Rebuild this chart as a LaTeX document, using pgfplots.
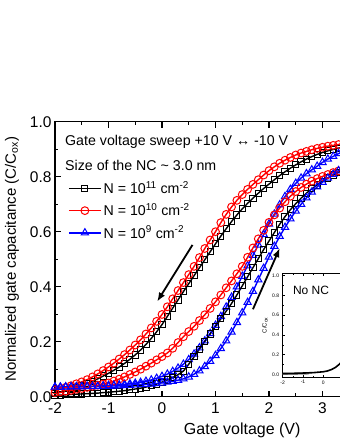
\documentclass[border=0pt]{standalone}
\usepackage{fontspec}
\setmainfont{Liberation Sans}
\usepackage{pgfplots}
\pgfplotsset{compat=1.18}
\usetikzlibrary{arrows.meta}

\pgfplotstableread[row sep=\\]{
x y\\ -2.0 0.012\\ -1.9 0.016\\ -1.8 0.021\\ -1.7 0.027\\ -1.6 0.034\\ -1.5 0.041\\ -1.4 0.048\\ -1.3 0.056\\ -1.2 0.065\\ -1.1 0.075\\ -1.0 0.085\\ -0.9 0.096\\ -0.8 0.108\\ -0.7 0.121\\ -0.6 0.136\\ -0.5 0.152\\ -0.4 0.170\\ -0.3 0.190\\ -0.2 0.212\\ -0.1 0.236\\ 0.0 0.262\\ 0.1 0.292\\ 0.2 0.322\\ 0.3 0.352\\ 0.4 0.382\\ 0.5 0.411\\ 0.6 0.440\\ 0.7 0.469\\ 0.8 0.498\\ 0.9 0.527\\ 1.0 0.556\\ 1.1 0.584\\ 1.2 0.611\\ 1.3 0.637\\ 1.4 0.661\\ 1.5 0.683\\ 1.6 0.703\\ 1.7 0.722\\ 1.8 0.740\\ 1.9 0.757\\ 2.0 0.773\\ 2.1 0.789\\ 2.2 0.804\\ 2.3 0.818\\ 2.4 0.831\\ 2.5 0.843\\ 2.6 0.854\\ 2.7 0.864\\ 2.8 0.873\\ 2.9 0.881\\ 3.0 0.888\\ 3.1 0.894\\ 3.2 0.899\\ 3.3 0.904\\ 3.4 0.908\\
}\BL
\pgfplotstableread[row sep=\\]{
x y\\ -2.0 0.005\\ -1.9 0.006\\ -1.8 0.007\\ -1.7 0.008\\ -1.6 0.009\\ -1.5 0.010\\ -1.4 0.011\\ -1.3 0.012\\ -1.2 0.013\\ -1.1 0.015\\ -1.0 0.016\\ -0.9 0.018\\ -0.8 0.020\\ -0.7 0.022\\ -0.6 0.025\\ -0.5 0.028\\ -0.4 0.031\\ -0.3 0.035\\ -0.2 0.040\\ -0.1 0.046\\ 0.0 0.053\\ 0.1 0.061\\ 0.2 0.070\\ 0.3 0.080\\ 0.4 0.093\\ 0.5 0.118\\ 0.6 0.145\\ 0.7 0.173\\ 0.8 0.201\\ 0.9 0.228\\ 1.0 0.255\\ 1.1 0.283\\ 1.2 0.311\\ 1.3 0.339\\ 1.4 0.370\\ 1.5 0.403\\ 1.6 0.436\\ 1.7 0.469\\ 1.8 0.502\\ 1.9 0.535\\ 2.0 0.566\\ 2.1 0.597\\ 2.2 0.627\\ 2.3 0.655\\ 2.4 0.680\\ 2.5 0.702\\ 2.6 0.722\\ 2.7 0.740\\ 2.8 0.756\\ 2.9 0.770\\ 3.0 0.783\\ 3.1 0.795\\ 3.2 0.806\\ 3.3 0.816\\ 3.4 0.825\\
}\BR
\pgfplotstableread[row sep=\\]{
x y\\ -2.0 0.025\\ -1.9 0.029\\ -1.8 0.034\\ -1.7 0.040\\ -1.6 0.047\\ -1.5 0.054\\ -1.4 0.062\\ -1.3 0.072\\ -1.2 0.083\\ -1.1 0.095\\ -1.0 0.108\\ -0.9 0.122\\ -0.8 0.137\\ -0.7 0.153\\ -0.6 0.170\\ -0.5 0.188\\ -0.4 0.207\\ -0.3 0.228\\ -0.2 0.250\\ -0.1 0.274\\ 0.0 0.299\\ 0.1 0.327\\ 0.2 0.356\\ 0.3 0.386\\ 0.4 0.415\\ 0.5 0.444\\ 0.6 0.474\\ 0.7 0.506\\ 0.8 0.539\\ 0.9 0.570\\ 1.0 0.600\\ 1.1 0.633\\ 1.2 0.663\\ 1.3 0.690\\ 1.4 0.714\\ 1.5 0.735\\ 1.6 0.754\\ 1.7 0.772\\ 1.8 0.789\\ 1.9 0.806\\ 2.0 0.822\\ 2.1 0.836\\ 2.2 0.849\\ 2.3 0.860\\ 2.4 0.870\\ 2.5 0.879\\ 2.6 0.886\\ 2.7 0.892\\ 2.8 0.898\\ 2.9 0.903\\ 3.0 0.907\\ 3.1 0.911\\ 3.2 0.914\\ 3.3 0.917\\ 3.4 0.920\\
}\RL
\pgfplotstableread[row sep=\\]{
x y\\ -2.0 0.015\\ -1.9 0.018\\ -1.8 0.020\\ -1.7 0.023\\ -1.6 0.027\\ -1.5 0.030\\ -1.4 0.034\\ -1.3 0.038\\ -1.2 0.042\\ -1.1 0.046\\ -1.0 0.050\\ -0.9 0.057\\ -0.8 0.064\\ -0.7 0.072\\ -0.6 0.081\\ -0.5 0.090\\ -0.4 0.100\\ -0.3 0.111\\ -0.2 0.122\\ -0.1 0.134\\ 0.0 0.146\\ 0.1 0.159\\ 0.2 0.176\\ 0.3 0.197\\ 0.4 0.218\\ 0.5 0.237\\ 0.6 0.256\\ 0.7 0.277\\ 0.8 0.298\\ 0.9 0.321\\ 1.0 0.345\\ 1.1 0.370\\ 1.2 0.396\\ 1.3 0.421\\ 1.4 0.447\\ 1.5 0.474\\ 1.6 0.507\\ 1.7 0.541\\ 1.8 0.574\\ 1.9 0.605\\ 2.0 0.634\\ 2.1 0.661\\ 2.2 0.686\\ 2.3 0.709\\ 2.4 0.729\\ 2.5 0.746\\ 2.6 0.761\\ 2.7 0.773\\ 2.8 0.784\\ 2.9 0.793\\ 3.0 0.801\\ 3.1 0.808\\ 3.2 0.815\\ 3.3 0.821\\ 3.4 0.827\\
}\RR
\pgfplotstableread[row sep=\\]{
x y\\ -2.0 0.035\\ -1.9 0.035\\ -1.8 0.036\\ -1.7 0.036\\ -1.6 0.037\\ -1.5 0.037\\ -1.4 0.038\\ -1.3 0.038\\ -1.2 0.039\\ -1.1 0.040\\ -1.0 0.041\\ -0.9 0.042\\ -0.8 0.043\\ -0.7 0.045\\ -0.6 0.047\\ -0.5 0.049\\ -0.4 0.052\\ -0.3 0.056\\ -0.2 0.061\\ -0.1 0.067\\ 0.0 0.074\\ 0.1 0.082\\ 0.2 0.092\\ 0.3 0.104\\ 0.4 0.118\\ 0.5 0.135\\ 0.6 0.155\\ 0.7 0.178\\ 0.8 0.203\\ 0.9 0.230\\ 1.0 0.260\\ 1.1 0.292\\ 1.2 0.326\\ 1.3 0.362\\ 1.4 0.400\\ 1.5 0.438\\ 1.6 0.476\\ 1.7 0.514\\ 1.8 0.552\\ 1.9 0.590\\ 2.0 0.628\\ 2.1 0.664\\ 2.2 0.698\\ 2.3 0.728\\ 2.4 0.754\\ 2.5 0.776\\ 2.6 0.795\\ 2.7 0.811\\ 2.8 0.825\\ 2.9 0.838\\ 3.0 0.852\\ 3.1 0.864\\ 3.2 0.874\\ 3.3 0.884\\ 3.4 0.892\\
}\UL
\pgfplotstableread[row sep=\\]{
x y\\ -2.0 0.035\\ -1.9 0.035\\ -1.8 0.035\\ -1.7 0.036\\ -1.6 0.036\\ -1.5 0.036\\ -1.4 0.037\\ -1.3 0.037\\ -1.2 0.037\\ -1.1 0.038\\ -1.0 0.038\\ -0.9 0.039\\ -0.8 0.040\\ -0.7 0.041\\ -0.6 0.042\\ -0.5 0.043\\ -0.4 0.044\\ -0.3 0.045\\ -0.2 0.046\\ -0.1 0.048\\ 0.0 0.050\\ 0.1 0.053\\ 0.2 0.056\\ 0.3 0.060\\ 0.4 0.065\\ 0.5 0.072\\ 0.6 0.082\\ 0.7 0.094\\ 0.8 0.110\\ 0.9 0.129\\ 1.0 0.150\\ 1.1 0.175\\ 1.2 0.203\\ 1.3 0.235\\ 1.4 0.270\\ 1.5 0.305\\ 1.6 0.343\\ 1.7 0.383\\ 1.8 0.425\\ 1.9 0.467\\ 2.0 0.508\\ 2.1 0.547\\ 2.2 0.583\\ 2.3 0.616\\ 2.4 0.647\\ 2.5 0.675\\ 2.6 0.700\\ 2.7 0.723\\ 2.8 0.744\\ 2.9 0.763\\ 3.0 0.780\\ 3.1 0.795\\ 3.2 0.809\\ 3.3 0.822\\ 3.4 0.834\\
}\UR

\begin{document}
\begin{tikzpicture}
\useasboundingbox (-55pt,-43.3pt) rectangle (285pt,396.7pt);
\clip (-55pt,-43.3pt) rectangle (285pt,396.7pt);
\begin{axis}[
  at={(0pt,0pt)}, anchor=south west,
  scale only axis, width=374.5pt, height=275pt,
  xmin=-2, xmax=5, ymin=0, ymax=1,
  xtick={-2,-1,0,1,2,3}, ytick={0,0.2,0.4,0.6,0.8,1.0},
  minor x tick num=1, minor y tick num=1,
  tick align=inside,
  axis line style={line width=1.5pt},
  every tick/.style={line width=1.2pt, black},
  major tick length=6pt, minor tick length=3.5pt,
  tick label style={font=\fontsize{15.5}{17}\selectfont},
  xticklabel style={yshift=-2.5pt},
  /pgf/number format/assume math mode=true,
  yticklabel style={/pgf/number format/.cd, fixed, fixed zerofill, precision=1},
  xlabel={Gate voltage (V)},
  ylabel={Normalized gate capacitance (C/C\textsubscript{ox})},
  xlabel style={font=\fontsize{16}{19}\selectfont, at={(axis description cs:0.5,-0.121)}, anchor=center},
  ylabel style={font=\fontsize{15}{18}\selectfont, at={(axis description cs:-0.115,0.5)}, anchor=center},
  legend style={at={(axis description cs:0.0347,0.790)}, anchor=north west,
    draw=none, fill=none, font=\fontsize{14.2}{16}\selectfont,
    row sep=4.5pt, inner sep=0pt},
  legend cell align=left,
  legend image code/.code={\draw[mark repeat=2,mark phase=2] plot coordinates {(0pt,0pt)(16pt,0pt)(32pt,0pt)};},
]
\addplot[black, line width=1.4pt, mark=square, mark size=3.1pt, mark options={line width=1pt, solid}] table {\BL};
\addlegendentry{N = 10\textsuperscript{11} cm\textsuperscript{-2}}
\addplot[red, line width=1.4pt, mark=o, mark size=3.9pt, mark options={line width=1pt, solid}] table {\RL};
\addlegendentry{N = 10\textsuperscript{10} cm\textsuperscript{-2}}
\addplot[blue, line width=1.4pt, mark=triangle, mark size=4.2pt, mark options={line width=1pt, solid}] table {\UL};
\addlegendentry{N = 10\textsuperscript{9} cm\textsuperscript{-2}}
\addplot[black, line width=1.4pt, mark=square, mark size=3.1pt, mark options={line width=1pt, solid}, forget plot] table {\BR};
\addplot[red, line width=1.4pt, mark=o, mark size=3.9pt, mark options={line width=1pt, solid}, forget plot] table {\RR};
\addplot[blue, line width=1.4pt, mark=triangle, mark size=4.2pt, mark options={line width=1pt, solid}, forget plot] table {\UR};
\draw[line width=1.8pt, -{Latex[length=9pt, width=7pt]}] (axis cs:0.57,0.552) -- (axis cs:-0.09,0.346);
\draw[line width=1.8pt, -{Latex[length=9pt, width=7pt]}] (axis cs:1.70,0.318) -- (axis cs:2.20,0.540);
\node[anchor=west, font=\fontsize{14.2}{16}\selectfont, inner sep=0pt] at (axis description cs:0.0267,0.927) {Gate voltage sweep +10 V ↔ -10 V};
\node[anchor=west, font=\fontsize{14.2}{16}\selectfont, inner sep=0pt] at (axis description cs:0.0267,0.8425) {Size of the NC \textasciitilde{} 3.0 nm};
\end{axis}
\begin{axis}[
  at={(227.7pt,19.7pt)}, anchor=south west,
  scale only axis, width=142pt, height=103.7pt,
  xmin=-2, xmax=5, ymin=-0.025, ymax=1.025,
  axis background/.style={fill=white},
  xtick={-2,-1,0}, ytick={0,0.2,0.4,0.6,0.8,1.0},
  minor x tick num=1, minor y tick num=1,
  tick align=inside,
  axis line style={line width=0.9pt},
  every tick/.style={line width=0.6pt, black},
  major tick length=2.5pt, minor tick length=1.5pt,
  tick label style={font=\fontsize{5}{6}\selectfont},
  /pgf/number format/assume math mode=true,
  yticklabel style={/pgf/number format/.cd, fixed, fixed zerofill, precision=1},
  ylabel={C/C\textsubscript{ox}},
  ylabel style={font=\fontsize{6}{7}\selectfont, at={(axis description cs:-0.125,0.5)}, anchor=center},
]
\addplot[gray, line width=2pt] table[row sep=\\] {x y\\ -2.0 0.006\\ -1.5 0.007\\ -1.0 0.009\\ -0.7 0.011\\};
\addplot[black, line width=1.6pt] table[row sep=\\] {x y\\ -2.0 0.010\\ -1.5 0.012\\ -1.0 0.015\\ -0.5 0.019\\ 0.0 0.028\\ 0.2 0.036\\ 0.4 0.050\\ 0.6 0.072\\ 0.8 0.105\\ 1.0 0.150\\ 1.2 0.210\\ 1.5 0.320\\ 2.0 0.530\\ 2.5 0.700\\ 3.0 0.800\\ 3.5 0.850\\ 4.0 0.875\\ 5.0 0.895\\};
\node[anchor=west, font=\fontsize{12}{14}\selectfont, inner sep=0pt] at (axis cs:-1.5,0.85) {No NC};
\end{axis}
\end{tikzpicture}
\end{document}
